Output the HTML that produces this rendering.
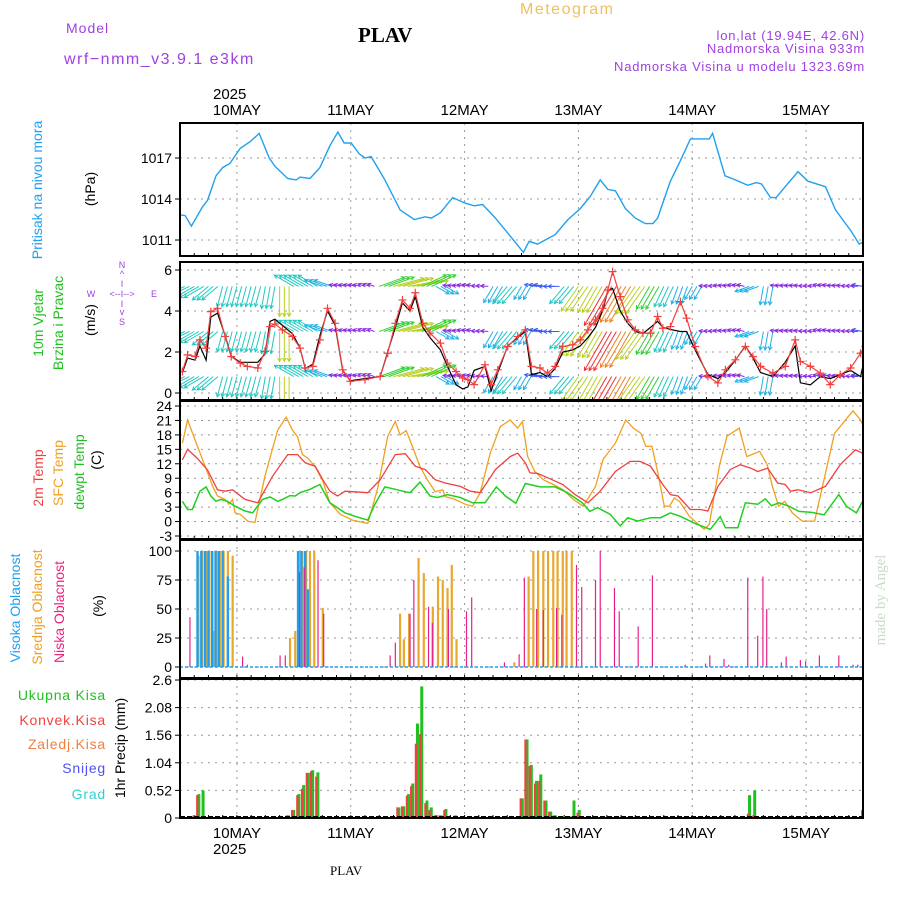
<!DOCTYPE html>
<html><head><meta charset="utf-8"><style>
body{margin:0;background:#fff}
svg{display:block;font-family:"Liberation Sans",sans-serif}
</style></head><body>
<svg id="chart" width="900" height="900" viewBox="0 0 900 900" xmlns="http://www.w3.org/2000/svg">
<defs>
<clipPath id="c1"><rect x="180" y="123" width="683" height="133"/></clipPath>
<clipPath id="c2"><rect x="180" y="262" width="683" height="138"/></clipPath>
<clipPath id="c3"><rect x="180" y="401" width="683" height="137"/></clipPath>
<clipPath id="c4"><rect x="180" y="540" width="683" height="137"/></clipPath>
<clipPath id="c5"><rect x="180" y="679" width="683" height="139"/></clipPath>
</defs>
<text x="66" y="33" font-size="14" fill="#a040e0" letter-spacing="1">Model</text>
<text x="64" y="64" font-size="16" fill="#a040e0" letter-spacing="1.5">wrf−nmm_v3.9.1 e3km</text>
<text x="358" y="42" font-size="21" font-weight="bold" font-family="Liberation Serif,serif">PLAV</text>
<text x="520" y="14" font-size="16" fill="#f0c060" letter-spacing="1.5">Meteogram</text>
<text x="865" y="40" font-size="13" fill="#a040e0" text-anchor="end" letter-spacing="0.8">lon,lat (19.94E, 42.6N)</text>
<text x="865" y="53" font-size="13" fill="#a040e0" text-anchor="end" letter-spacing="0.8">Nadmorska Visina 933m</text>
<text x="865" y="71" font-size="13" fill="#a040e0" text-anchor="end" letter-spacing="0.8">Nadmorska Visina u modelu 1323.69m</text>
<text x="213" y="99" font-size="15">2025</text>
<text x="213" y="854" font-size="15">2025</text>
<text x="330" y="875" font-size="13" font-family="Liberation Serif,serif">PLAV</text>
<text transform="translate(42,190) rotate(-90)" text-anchor="middle" font-size="14" fill="#20a0f0">Pritisak na nivou mora</text>
<text transform="translate(95,189) rotate(-90)" text-anchor="middle" font-size="14">(hPa)</text>
<text transform="translate(43,323) rotate(-90)" text-anchor="middle" font-size="14" fill="#20c020">10m Vjetar</text>
<text transform="translate(63,323) rotate(-90)" text-anchor="middle" font-size="14" fill="#20c020">Brzina i Pravac</text>
<text transform="translate(95,320) rotate(-90)" text-anchor="middle" font-size="14">(m/s)</text>
<g font-size="9" fill="#a040e0" text-anchor="middle">
<text x="122" y="268">N</text>
<text x="122" y="277">^</text>
<text x="122" y="287">I</text>
<text x="91" y="297">W</text>
<text x="122" y="297">&lt;--I--&gt;</text>
<text x="154" y="297">E</text>
<text x="122" y="307">I</text>
<text x="122" y="315">v</text>
<text x="122" y="325">S</text>
</g>
<text transform="translate(43,478) rotate(-90)" text-anchor="middle" font-size="14" fill="#f04040">2m Temp</text>
<text transform="translate(63,473) rotate(-90)" text-anchor="middle" font-size="14" fill="#f0a020">SFC Temp</text>
<text transform="translate(84,472) rotate(-90)" text-anchor="middle" font-size="14" fill="#20c020">dewpt Temp</text>
<text transform="translate(101,460) rotate(-90)" text-anchor="middle" font-size="14">(C)</text>
<text transform="translate(20,608) rotate(-90)" text-anchor="middle" font-size="14" fill="#20a0f0">Visoka Oblacnost</text>
<text transform="translate(42,607) rotate(-90)" text-anchor="middle" font-size="14" fill="#f0a020">Srednja Oblacnost</text>
<text transform="translate(64,612) rotate(-90)" text-anchor="middle" font-size="14" fill="#f02080">Niska Oblacnost</text>
<text transform="translate(103,606) rotate(-90)" text-anchor="middle" font-size="14">(%)</text>
<text x="106" y="700" font-size="14" fill="#20c020" text-anchor="end" letter-spacing="0.8">Ukupna Kisa</text>
<text x="106" y="725" font-size="14" fill="#f04040" text-anchor="end" letter-spacing="0.8">Konvek.Kisa</text>
<text x="106" y="749" font-size="14" fill="#f08040" text-anchor="end" letter-spacing="0.8">Zaledj.Kisa</text>
<text x="106" y="773" font-size="14" fill="#5050f0" text-anchor="end" letter-spacing="0.8">Snijeg</text>
<text x="106" y="799" font-size="14" fill="#30d0d0" text-anchor="end" letter-spacing="0.8">Grad</text>
<text transform="translate(125,748) rotate(-90)" text-anchor="middle" font-size="14">1hr Precip (mm)</text>
<text transform="translate(885,600) rotate(-90)" text-anchor="middle" font-size="15" fill="#c8dcc8" font-family="Liberation Serif,serif">made by Angel</text>
<g id="plots"></g>
</svg>
<script>
// ---- data ----
const pressureHours=[0,1.1,2.4,4.7,5.8,7.6,9.0,10.5,12.7,14.8,16.7,18.8,20.0,22.7,24.5,25.3,27.4,29.5,31.6,33.3,34.6,36.1,37.8,39.0,40.3,43.2,46.4,49.4,51.7,53.0,54.9,57.5,60.1,62.0,63.8,66.5,69.6,72.4,73.6,75.4,77.0,79.1,81.8,84.4,86.5,88.6,90.2,91.8,93.9,96.0,98.1,99.7,100.7,103.4,105.5,107.6,109.7,111.6,112.3,114.9,117.1,119.7,121.5,122.6,124.5,125.7,127.6,130.3,132.4,136.1,138.2,141.4,143.2,144.3];
const pressureValues=[1012.85,1012.78,1012.02,1013.4,1013.9,1015.7,1016.3,1016.6,1017.7,1018.2,1018.8,1017.0,1016.4,1015.5,1015.4,1015.6,1015.5,1016.3,1017.9,1018.9,1018.1,1018.1,1017.3,1017.0,1017.1,1015.4,1013.2,1012.5,1012.7,1012.6,1013.0,1014.1,1013.7,1013.5,1013.6,1012.6,1011.3,1010.1,1010.9,1010.7,1011.0,1011.4,1012.5,1013.3,1014.2,1015.4,1014.7,1014.6,1013.3,1012.6,1012.2,1012.2,1012.6,1015.3,1016.8,1018.4,1018.4,1018.4,1018.8,1015.7,1015.4,1015.0,1015.2,1015.1,1014.1,1014.1,1014.9,1016.0,1015.3,1014.9,1013.2,1011.7,1010.7,1010.9];
const pressureTicks=[1011,1014,1017];

const windHours=[0.5,1.6,3.2,4.2,5.5,6.5,7.9,9.5,10.8,12.7,14.2,16.4,17.9,19.0,20.0,21.6,23.7,25.3,26.4,28.0,29.5,31.1,32.7,34.3,35.9,39.0,42.2,43.8,45.4,46.9,48.5,49.6,51.2,52.7,54.9,56.4,58.2,59.6,60.7,62.0,64.3,65.6,67.0,69.1,71.2,72.8,74.1,75.9,77.5,79.1,80.7,82.8,84.4,86.0,87.6,89.1,90.2,91.2,92.8,94.4,96.0,97.6,99.2,100.7,101.8,103.4,105.5,106.8,108.6,111.3,113.4,115.0,117.1,119.2,120.8,122.4,125.0,127.6,129.7,130.8,132.9,135.0,137.1,139.2,141.4,143.5,144.5];
const windSpeed=[1.05,1.86,1.78,2.59,2.19,3.97,4.13,2.76,1.78,1.46,1.30,1.22,2.03,3.24,3.37,3.08,2.76,2.19,1.22,1.30,2.59,4.13,3.40,1.13,0.57,0.65,0.81,1.94,3.40,4.54,4.13,4.89,3.40,2.92,2.43,1.46,1.05,0.73,0.65,0.41,1.38,0.41,1.13,2.27,2.76,3.08,1.30,1.22,0.97,1.30,2.27,2.35,2.59,3.08,3.57,4.13,5.02,5.92,4.70,3.57,3.08,2.92,2.92,3.73,3.16,3.24,4.46,3.65,2.27,0.81,0.49,1.13,1.62,2.27,1.78,1.30,0.97,1.30,2.59,1.54,1.30,0.97,0.41,0.89,1.22,1.94,2.27];
const windSpeedModel=[1.0,1.7,1.6,2.3,1.6,3.7,3.9,2.8,1.8,1.5,1.5,1.5,1.9,3.5,3.6,3.3,2.9,2.2,1.2,1.4,2.8,4.0,3.3,1.1,0.6,0.7,0.8,2.0,3.2,4.4,4.0,4.7,3.2,2.7,2.1,1.3,0.4,0.2,0.3,1.1,1.3,0.1,1.0,2.3,2.7,3.0,0.9,1.0,0.8,1.2,2.0,2.1,2.3,2.7,3.2,4.0,5.0,5.1,4.0,3.4,3.0,2.9,3.2,3.5,3.2,3.1,3.0,3.0,2.1,0.9,0.7,1.0,1.6,2.3,1.7,1.0,0.8,1.5,2.3,0.5,0.4,0.8,0.7,0.9,1.1,0.8,1.9];
const arrowDir=[205,210,220,255,255,255,260,270,150,150,160,165,165,160,20,15,10,25,330,170,165,175,240,230,240,170,180,230,235,240,240,240,235,240,245,250,240,175,170,165,200,260,170,170,175,165,170,175,170];
const arrowSpeed=[2.8,3,2.8,2.8,2.8,2.8,3,4,3,3,2.5,1,1,1,3.6,4.2,4.2,3.6,2,1,1,1,2.5,3,2,1.5,1.5,3,4,4,6,5.5,4.5,3.5,3,2.5,2,1,1,1,2,2.5,1,1,1,1,1,1,1.5];
const arrowLevels=[5.2,3.0,0.8];
const windTicks=[0,2,4,6];

const tempHoursSfc=[0.5,1.6,3.7,5.3,6.9,7.9,9.5,10.3,11.1,11.6,12.7,14.3,15.8,17.9,20.6,22.4,23.7,24.8,25.8,26.9,28.5,30.1,31.6,33.8,36.4,39.6,41.7,43.8,45.4,46.4,47.7,49.0,50.6,52.2,53.8,55.4,55.9,58.0,60.1,61.7,63.3,65.4,67.5,69.6,71.2,72.2,73.3,74.8,76.6,78.7,80.8,82.9,85.0,87.6,89.2,91.8,94.0,95.6,97.2,98.2,99.5,100.7,102.1,103.2,104.2,105.3,107.4,110.5,111.6,113.7,115.3,117.9,119.5,122.2,123.8,124.9,126.2,127.5,129.1,131.2,133.8,138.0,141.9,143.5,144.5];
const tempSfc=[16.3,21.1,15.6,11.5,7.3,5.3,4.6,3.6,4.6,1.8,1.5,0.1,-0.2,9.4,19.0,21.7,19.0,17.6,13.9,13.2,11.4,8.4,3.9,1.5,0.3,-0.4,7.0,17.7,20.8,18.0,18.9,15.6,11.4,8.6,6.2,6.6,5.2,4.6,3.6,3.2,6.0,14.2,19.7,21.1,19.4,20.8,13.5,10.4,8.7,7.7,6.6,4.6,3.2,7.3,12.9,16.3,21.1,19.4,18.3,15.6,15.6,10.4,3.2,3.2,4.9,4.2,1.1,-1.6,-0.6,11.5,17.7,19.4,13.5,14.6,11.8,7.3,3.2,4.2,1.8,0.1,0.1,18.3,23.0,21.1,18.7];
const tempHours2m=[0.5,1.6,3.7,5.8,7.9,9.5,11.1,13.7,16.4,19.5,22.7,24.8,26.4,28.5,30.1,31.6,33.2,34.8,39.6,42.2,45.4,47.5,49.6,51.7,53.8,55.9,59.1,61.2,63.3,66.5,69.6,71.2,72.8,73.8,75.4,77.5,80.7,83.3,86.0,88.6,91.8,94.9,97.0,99.2,101.8,103.4,105.0,107.6,109.7,111.3,113.4,116.0,118.1,120.3,121.8,123.9,126.0,127.6,128.7,130.3,133.0,136.1,139.2,142.4,144.5];
const temp2m=[12.8,15.0,13.1,10.7,6.6,6.3,6.6,4.6,3.9,9.4,13.9,13.9,12.2,11.5,8.7,6.3,5.3,6.3,6.0,8.7,13.9,14.1,11.5,10.8,8.7,8.0,7.3,6.3,6.0,10.8,13.5,14.2,12.2,10.1,10.0,9.1,7.7,5.6,3.9,6.3,10.4,12.5,12.5,11.5,7.7,5.6,5.3,2.5,2.5,2.2,7.3,10.8,11.8,11.1,10.4,11.1,8.0,7.7,6.3,6.6,6.0,7.3,11.8,14.9,13.9];
const tempHoursDew=[0.5,1.6,2.6,4.2,5.5,6.5,7.6,8.6,10.0,11.6,13.7,15.3,17.4,19.0,20.6,21.6,23.2,24.3,25.3,27.4,29.5,31.6,34.8,36.9,39.6,41.1,43.2,45.4,47.0,48.5,50.6,52.7,54.3,56.4,59.1,61.7,64.3,66.7,68.6,70.8,72.8,75.9,79.1,81.7,84.8,86.4,88.0,90.7,92.8,94.4,96.5,99.2,101.3,103.4,105.5,108.6,111.8,113.9,115.0,117.6,119.2,121.8,123.4,124.7,126.3,128.4,130.5,133.2,135.8,138.9,140.5,142.6,145.2];
const tempDew=[4.2,2.5,2.5,6.3,7.2,5.3,4.2,4.6,4.2,3.2,2.2,1.8,4.6,5.1,4.2,4.6,5.4,5.3,6.0,6.7,7.7,3.9,1.8,1.1,0.3,3.6,7.2,6.7,6.3,6.0,8.2,5.3,5.0,5.6,5.0,3.9,3.9,7.2,5.3,3.8,7.9,7.2,7.2,6.0,3.9,2.1,2.9,1.5,-0.9,0.8,0.1,0.8,0.8,1.8,1.1,-0.4,-1.6,1.0,-1.3,-1.3,3.9,3.6,4.7,3.3,3.9,3.2,2.1,1.9,1.4,5.6,3.2,1.8,6.6];
const tempTicks=[-3,0,3,6,9,12,15,18,21,24];

const highCloudHours=[3.9,4.7,5.5,6.2,7.0,7.7,8.4,9.2,10.3,25.1,25.8,26.6,27.2];
const highCloud=[100,100,100,100,100,100,100,100,78,100,100,100,67];
const midCloudHours=[3.9,4.7,5.5,6.2,7.0,7.7,8.4,9.2,10.1,11.1,23.2,24.3,25.1,25.8,26.6,27.4,28.3,30.1,46.4,47.2,48.3,50.3,51.4,53.3,54.4,55.4,56.4,57.3,58.3,70.5,73.5,74.5,75.5,76.6,77.6,78.7,79.6,80.7,81.5,82.6];
const midCloud=[96,100,100,100,31,100,100,100,100,96,25,31,100,100,100,100,100,51,46,24,46,94,81,52,78,75,68,88,24,4,78,100,100,100,100,100,100,100,100,100];
const lowCloudHours=[2.1,13.2,14.2,21.1,22.2,25.2,26.2,29.1,30.3,44.3,45.4,48.5,49.3,52.4,53.2,56.6,60.4,61.5,68.4,71.5,72.6,75.2,76.6,79.4,80.5,83.6,84.7,87.6,88.6,91.6,92.6,96.6,99.6,106.5,110.8,111.7,114.7,115.7,119.7,121.8,122.9,123.7,126.8,127.8,130.8,131.9,134.8,138.9,141.9,142.9];
const lowCloud=[43,9,2,10,10,82,86,92,46,10,21,46,75,52,38,50,48,60,4,11,77,50,49,51,45,88,69,75,100,68,48,35,79,2,3,10,7,2,77,27,78,50,4,9,6,5,10,10,2,2];
const cloudTicks=[0,25,50,75,100];

const precipHours=[2.8,3.8,4.7,22.7,23.8,24.9,25.9,26.9,27.8,28.9,46.0,47.0,48.0,48.9,49.9,50.8,51.9,52.8,53.9,54.9,55.9,57.9,69.9,71.0,72.0,73.0,73.9,75.0,75.9,77.0,78.0,79.0,80.9,82.0,82.9,84.0,119.9,121.0,144.0];
const precipTotal=[0.05,0.45,0.52,0.05,0.15,0.45,0.62,0.85,0.9,0.86,0.2,0.22,0.45,0.65,1.78,2.48,0.33,0.2,0.05,0.05,0.17,0.05,0.02,0.02,0.37,1.48,1.0,0.7,0.82,0.33,0.12,0.05,0.03,0.03,0.33,0.15,0.43,0.52,0.15];
const precipConv=[0.03,0.43,0.0,0.05,0.15,0.43,0.55,0.85,0.88,0.78,0.2,0.22,0.42,0.6,1.4,1.58,0.28,0.15,0.05,0.05,0.15,0.0,0.02,0.02,0.37,1.48,0.98,0.65,0.7,0.33,0.12,0.05,0.0,0.0,0.03,0.1,0.08,0.05,0.15];
const precipTicks=[0,0.52,1.04,1.56,2.08,2.6];

const dayLabels=["10MAY","11MAY","12MAY","13MAY","14MAY","15MAY"];
const dayHours=[12,36,60,84,108,132];

// ---- scales ----
const X0=180,X1=863,HMAX=144;
const xs=h=>X0+h*(X1-X0)/HMAX;
const yP=p=>158+(1017-p)*13.67;
const yW=v=>393-v*20.5;
const yT=t=>406+(24-t)*4.815;
const yC=c=>667-c*1.16;
const yR=r=>818-r*(138/2.6);
const NS="http://www.w3.org/2000/svg";
const root=document.getElementById('plots');
function mk(tag,attrs,parent){const e=document.createElementNS(NS,tag);for(const k in attrs)e.setAttribute(k,attrs[k]);(parent||root).appendChild(e);return e;}

const panels=[
 {top:123,bot:256,ticks:pressureTicks,ys:yP,clip:'c1',name:'pressure'},
 {top:262,bot:400,ticks:windTicks,ys:yW,clip:'c2',name:'wind'},
 {top:401,bot:539,ticks:tempTicks,ys:yT,clip:'c3',name:'temperature'},
 {top:540,bot:678,ticks:cloudTicks,ys:yC,clip:'c4',name:'cloud'},
 {top:679,bot:818,ticks:precipTicks,ys:yR,clip:'c5',name:'precip'}
];
panels.forEach(p=>{
  const g=mk('g',{});
  
  
  dayHours.forEach(h=>{
    const l=mk('line',{x1:xs(h),x2:xs(h),y1:p.top,y2:p.bot,stroke:'#999','stroke-dasharray':'2,5','stroke-width':1},g);
    
    
  });
  p.ticks.forEach(t=>{
    const y=p.ys(t);
    const l=mk('line',{x1:X0,x2:X1,y1:y,y2:y,stroke:'#999','stroke-dasharray':'2,5','stroke-width':1},g);
    
    
    const tk=mk('line',{x1:X0-5,x2:X0,y1:y,y2:y,stroke:'#000'},g);
    
    
    const tx=mk('text',{x:X0-8,y:y+5,'text-anchor':'end','font-size':14},g);
    
    
    tx.textContent=t;
  });
  for(let h=0;h<=HMAX;h+=3){
    const tk=mk('line',{x1:xs(h),x2:xs(h),y1:p.bot-3,y2:p.bot,stroke:'#000'},g);
    
    
  }
});
dayLabels.forEach((d,i)=>{
  const a=mk('text',{x:xs(dayHours[i]),y:115,'text-anchor':'middle','font-size':15});
  
  
  a.textContent=d;
  const b=mk('text',{x:xs(dayHours[i]),y:838,'text-anchor':'middle','font-size':15});
  
  
  b.textContent=d;
});
function line(hs,vs,ys,color,clip,name,w){
  const d=hs.map((h,i)=>(i?'L':'M')+xs(h).toFixed(1)+','+ys(vs[i]).toFixed(1)).join('');
  const e=mk('path',{d:d,fill:'none',stroke:color,'stroke-width':w||1.3,'clip-path':'url(#'+clip+')'});
  
  
}
line(pressureHours,pressureValues,yP,'#20a0f0','c1','pressure-line',1.4);

const arrowColor=s=>s<1.2?'#8a2be2':s<1.8?'#3a5cf0':s<2.6?'#20b0e8':s<3.2?'#20c8c0':s<3.8?'#30d030':s<4.6?'#b8d020':s<5.2?'#f0b020':s<5.8?'#f08020':'#f03030';
const ag=mk('g',{'clip-path':'url(#c2)'});


arrowLevels.forEach(lv=>{
  for(let h=0;h<=HMAX;h++){
    const i=Math.min(arrowDir.length-1,Math.floor(h/3));
    const s=arrowSpeed[i],a=arrowDir[i]*Math.PI/180;
    const L=s*7.5;
    const x0=xs(h),y0=yW(lv),x1=x0+L*Math.cos(a),y1=y0-L*Math.sin(a);
    const c=arrowColor(s);
    const hl=4,b1=a+Math.PI-0.5,b2=a+Math.PI+0.5;
    const ar=mk('path',{d:`M${x0},${y0}L${x1},${y1}M${x1+hl*Math.cos(b1)},${y1-hl*Math.sin(b1)}L${x1},${y1}L${x1+hl*Math.cos(b2)},${y1-hl*Math.sin(b2)}`,stroke:c,'stroke-width':1,fill:'none'},ag);
    
    
  }
});
line(windHours,windSpeedModel,yW,'#000','c2','wind-speed-model-line',1.2);
line(windHours,windSpeed,yW,'#f04040','c2','wind-speed-line',1.2);
windHours.forEach((h,i)=>{
  const x=xs(h),y=yW(windSpeed[i]);
  const m=mk('path',{d:`M${x-4},${y}H${x+4}M${x},${y-4}V${y+4}`,stroke:'#f04040','stroke-width':1.2,'clip-path':'url(#c2)'});
  
  
});

line(tempHoursSfc,tempSfc,yT,'#f0a020','c3','sfc-temp-line',1.3);
line(tempHours2m,temp2m,yT,'#f04040','c3','2m-temp-line',1.3);
line(tempHoursDew,tempDew,yT,'#20d020','c3','dewpoint-line',1.5);

function bars(hs,vs,ys,color,w,clip,name,off){
  hs.forEach((h,i)=>{
    const x=xs(h)+(off||0),y=ys(vs[i]),y0=ys(0);
    const r=mk('rect',{x:x-w/2,y:Math.min(y,y0),width:w,height:Math.abs(y0-y),fill:color,'clip-path':'url(#'+clip+')'});
    
    
  });
}
bars(midCloudHours,midCloud,yC,'#e8a830',2.2,'c4','mid-cloud-bar',0);
bars(highCloudHours,highCloud,yC,'#20a0f0',2.4,'c4','high-cloud-bar',-1);
bars(lowCloudHours,lowCloud,yC,'#e8208a',1.2,'c4','low-cloud-bar',0);
const cb=mk('line',{x1:X0,x2:X1,y1:yC(0),y2:yC(0),stroke:'#20a0f0','stroke-width':1.5,'stroke-dasharray':'3,2'});



bars(precipHours,precipTotal,yR,'#20c020',3,'c5','total-precip-bar',0.8);
bars(precipHours,precipConv,yR,'#f04040',2.2,'c5','convective-precip-bar',-0.8);
const pb=mk('line',{x1:X0,x2:X1,y1:yR(0)-1,y2:yR(0)-1,stroke:'#000','stroke-width':2,'stroke-dasharray':'5,2'});



panels.forEach(p=>{
  const r=mk('rect',{x:X0,y:p.top,width:X1-X0,height:p.bot-p.top,fill:'none',stroke:'#000','stroke-width':2});
  
  
});
</script>
</body></html>
